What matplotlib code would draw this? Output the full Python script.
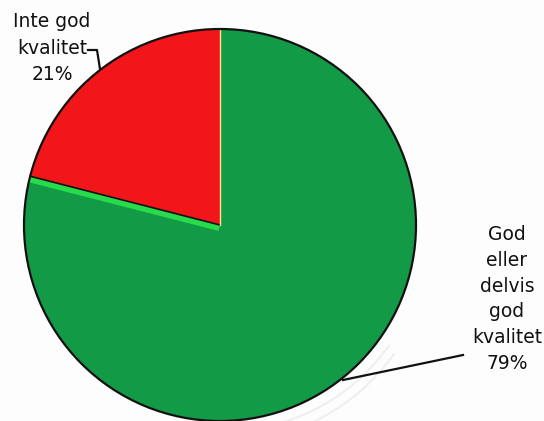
import matplotlib
matplotlib.use('Agg')
import matplotlib.pyplot as plt
import numpy as np
from matplotlib.patches import Circle, Arc

# Share of answers
labels = ['Inte god\nkvalitet\n21%', 'God\neller\ndelvis\ngod\nkvalitet\n79%']
shares = [21, 79]
colors = ['#F2161A', '#139A47']

W, H = 544, 421
fig = plt.figure(figsize=(W / 100, H / 100), dpi=100)
fig.patch.set_facecolor('#FDFDFD')
ax = fig.add_axes([0, 0, 1, 1])

cx, cy, r = 220, H - 225, 196

wedges, _ = ax.pie(shares, colors=colors, startangle=90, counterclock=True,
                   center=(cx, cy), radius=r, wedgeprops=dict(linewidth=0))
ax.set_aspect('auto')
ax.set_xlim(0, W)
ax.set_ylim(0, H)
ax.axis('off')

# faint shadow arcs under the pie
for dr, dy in [(6, -4), (12, -9)]:
    ax.add_patch(Arc((cx + 4, cy + dy), 2 * (r + dr), 2 * (r + dr), theta1=-75, theta2=-35,
                     color='#EFEFEF', lw=1.5, zorder=0))

# boundary between red and green, with the light green band below it
theta = np.deg2rad(90 + 360 * shares[0] / sum(shares))
ux, uy = np.cos(theta), np.sin(theta)
nx, ny = np.sin(theta), -np.cos(theta)  # normal pointing into the green part
band, = ax.plot([cx - 3 * nx, cx + r * ux - 3 * nx], [cy - 3 * ny, cy + r * uy - 3 * ny],
                color='#27DB4A', lw=4.5, solid_capstyle='butt', zorder=3)
band.set_clip_path(wedges[1])
ax.plot([cx, cx + r * ux], [cy, cy + r * uy], color='#111111', lw=1.2, zorder=4)
ax.plot([cx, cx], [cy, cy + r], color='#F4E98A', lw=1.0, zorder=4)

# outline
ax.add_patch(Circle((cx, cy), r, fill=False, ec='#111111', lw=1.6, zorder=5))

# labels with leader lines
ax.text(52, H - 48, labels[0], ha='center', va='center', fontsize=13.5,
        linespacing=1.5, color='#111111')
ax.plot([88, 97, 100], [H - 50, H - 50, H - 69], color='#111111', lw=1.6)

ax.text(507, H - 299, labels[1], ha='center', va='center', fontsize=13.5,
        linespacing=1.45, color='#111111')
ax.plot([463, 343], [H - 355, H - 380], color='#111111', lw=1.6)

fig.savefig('out.png', dpi=100, facecolor=fig.get_facecolor())
